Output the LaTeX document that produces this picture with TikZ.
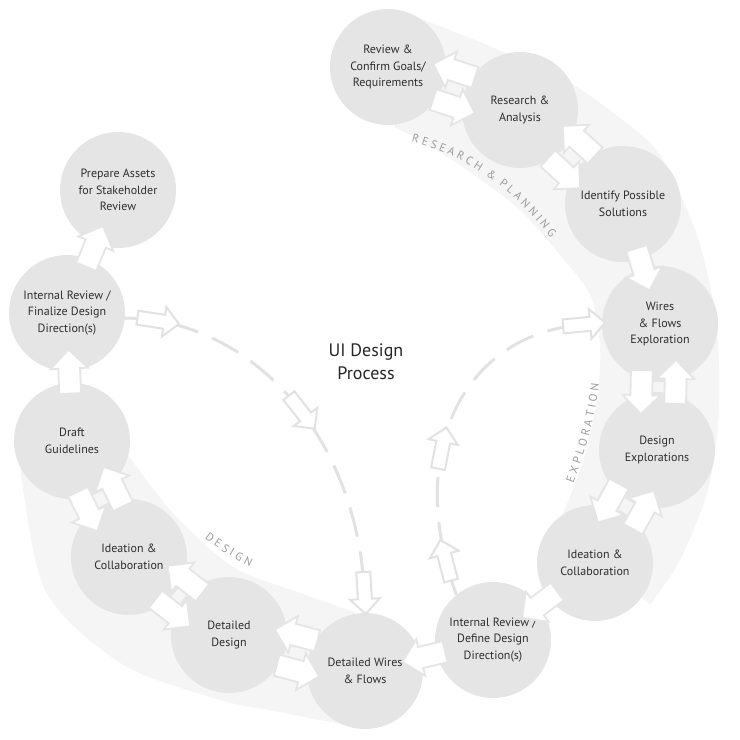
\documentclass[tikz,border=0pt]{standalone}
\usepackage{fontspec}
\setmainfont{PT Sans}
\usepackage{tikz}
\usetikzlibrary{shapes.arrows, decorations.text, backgrounds, calc}
\definecolor{stagegray}{HTML}{E5E5E5}
\definecolor{bandgray}{HTML}{F5F5F5}
\definecolor{dashgray}{HTML}{E2E2E2}
\definecolor{labelgray}{HTML}{9C9C9C}
\definecolor{textgray}{HTML}{2E2E2E}
\tikzstyle{stage} = [circle, fill=stagegray, minimum size=116pt, inner sep=0pt, align=center, text=textgray, font=\fontsize{12}{16.5}\selectfont]
\tikzstyle{hop} = [single arrow, draw=stagegray, fill=white, line width=1.8pt, minimum height=44pt, inner xsep=0pt, inner ysep=10pt, single arrow head extend=8pt, midway, sloped, allow upside down]
\tikzstyle{jump} = [single arrow, draw=dashgray, fill=white, solid, line width=2pt, minimum height=42pt, inner xsep=0pt, inner ysep=6pt, single arrow head extend=8pt, sloped, allow upside down]
\tikzstyle{loopline} = [draw=dashgray, line width=3pt, dash pattern=on 30pt off 15pt]
\tikzstyle{phase} = [decorate, decoration={text along path, text align=center, text color=labelgray}]

\begin{document}
\begin{tikzpicture}[x=1pt, y=-1pt]
		\useasboundingbox (0,0) rectangle (740,740);
		\node (rev) [stage] at (388,67) {Review \&\\Confirm Goals/\\Requirements};
		\node (res) [stage] at (520,110) {Research \&\\Analysis};
		\node (ips) [stage] at (623,204) {Identify Possible\\Solutions};
		\node (wfe) [stage] at (660,324) {Wires\\\& Flows\\Exploration};
		\node (dex) [stage] at (657,450) {Design\\Explorations};
		\node (icr) [stage] at (595,563) {Ideation \&\\Collaboration};
		\node (idr) [stage] at (493,640) {Internal Review /\\Define Design\\Direction(s)};
		\node (dwf) [stage] at (365,671) {Detailed Wires\\\& Flows};
		\node (dd) [stage] at (229,635) {Detailed\\Design};
		\node (icl) [stage] at (129,557) {Ideation \&\\Collaboration};
		\node (dg) [stage] at (72,441) {Draft\\Guidelines};
		\node (ifd) [stage] at (67,313) {Internal Review /\\Finalize Design\\Direction(s)};
		\node (pa) [stage] at (118,190) {Prepare Assets\\for Stakeholder\\Review};
		\node (title) at (366,362) [align=center, text=black!85, font=\fontsize{18}{23}\selectfont] {UI Design\\Process};
		\begin{scope}[on background layer]
		\fill[bandgray] plot[smooth] coordinates {(395,9) (480,42) (565,80) (620,118) (660,155) (697,235) (716,320) (719,410) (708,490) (680,560) (650,605)}
			-- plot[smooth] coordinates {(560,520) (582,465) (597,400) (600,345) (590,295) (560,255) (520,210) (470,172) (420,140) (395,128)} -- cycle;
		\fill[bandgray] plot[smooth] coordinates {(20,465) (45,590) (122,664) (220,700) (270,710) (320,720) (362,727)}
			-- plot[smooth] coordinates {(355,612) (300,593) (233,567) (173,513) (128,455)} -- cycle;
		\end{scope}
		\path[phase, decoration={text={|\fontsize{11.5}{13}\selectfont|R E S E A R C H {\kern4pt}{\&}{\kern4pt} P L A N N I N G}}] (399,139) .. controls (460,150) and (518,190) .. (558,248);
		\path[phase, decoration={text={|\fontsize{11.5}{13}\selectfont|E X P L O R A T I O N}}] (570,492) .. controls (584,455) and (596,420) .. (600,374);
		\path[phase, decoration={text={|\fontsize{11.5}{13}\selectfont|D E S I G N}}] (196,532) .. controls (215,547) and (236,561) .. (260,571);
		\path ($(rev)!17pt!-90:(res)$) -- ($(res)!17pt!90:(rev)$) node[hop] {};
		\path ($(res)!17pt!-90:(rev)$) -- ($(rev)!17pt!90:(res)$) node[hop] {};
		\path ($(res)!17pt!-90:(ips)$) -- ($(ips)!17pt!90:(res)$) node[hop] {};
		\path ($(ips)!17pt!-90:(res)$) -- ($(res)!17pt!90:(ips)$) node[hop] {};
		\path (ips) -- (wfe) node[hop] {};
		\path ($(wfe)!17pt!-90:(dex)$) -- ($(dex)!17pt!90:(wfe)$) node[hop] {};
		\path ($(dex)!17pt!-90:(wfe)$) -- ($(wfe)!17pt!90:(dex)$) node[hop] {};
		\path ($(dex)!17pt!-90:(icr)$) -- ($(icr)!17pt!90:(dex)$) node[hop] {};
		\path ($(icr)!17pt!-90:(dex)$) -- ($(dex)!17pt!90:(icr)$) node[hop] {};
		\path (icr) -- (idr) node[hop] {};
		\path (idr) -- (dwf) node[hop] {};
		\path ($(dwf)!17pt!-90:(dd)$) -- ($(dd)!17pt!90:(dwf)$) node[hop] {};
		\path ($(dd)!17pt!-90:(dwf)$) -- ($(dwf)!17pt!90:(dd)$) node[hop] {};
		\path ($(dd)!17pt!-90:(icl)$) -- ($(icl)!17pt!90:(dd)$) node[hop] {};
		\path ($(icl)!17pt!-90:(dd)$) -- ($(dd)!17pt!90:(icl)$) node[hop] {};
		\path ($(icl)!17pt!-90:(dg)$) -- ($(dg)!17pt!90:(icl)$) node[hop] {};
		\path ($(dg)!17pt!-90:(icl)$) -- ($(icl)!17pt!90:(dg)$) node[hop] {};
		\path (dg) -- (ifd) node[hop] {};
		\path (ifd) -- (pa) node[hop] {};
		\draw[loopline] (ifd.-5) .. controls +(125,0) and +(0,-175) .. (dwf.north)
			node[jump, pos=0.08] {} node[jump, pos=0.53] {} node[jump, pos=0.955] {};
		\draw[loopline] (idr.129) .. controls +(-55,-150) and +(-132,-2) .. (wfe.west)
			node[jump, pos=0.07] {} node[jump, pos=0.35] {} node[jump, pos=0.945] {};
\end{tikzpicture}
\end{document}
